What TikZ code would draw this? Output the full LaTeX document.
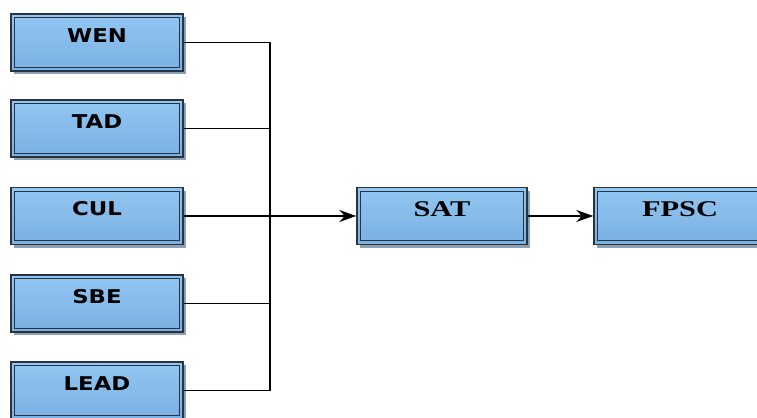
\documentclass[tikz,border=0pt]{standalone}
\usepackage{fontspec}
\newfontfamily\boxsans[FakeStretch=1.2]{DejaVu Sans}
\newfontfamily\boxserif[FakeStretch=1.35]{Liberation Serif}
\usetikzlibrary{arrows.meta,shadows}
\definecolor{boxtop}{RGB}{146,198,242}
\definecolor{boxbot}{RGB}{122,176,226}
\definecolor{boxline}{RGB}{40,52,66}
\definecolor{boxshadow}{RGB}{140,160,176}

\begin{document}
\begin{tikzpicture}[x=0.025cm,y=-0.025cm,
box/.style={rectangle,draw=boxline,line width=1.1pt,top color=boxtop,bottom color=boxbot,
 minimum width=4.3cm,minimum height=1.425cm,inner sep=0pt,text depth=10.5pt,
 drop shadow={shadow xshift=2.4pt,shadow yshift=-2.4pt,fill=boxshadow,opacity=1},
 path picture={\draw[boxline,line width=0.7pt] ([shift={(2.8pt,2.8pt)}]path picture bounding box.south west) rectangle ([shift={(-2.8pt,-2.8pt)}]path picture bounding box.north east);}},
leftbox/.style={box,font=\boxsans\bfseries\fontsize{13.5}{15}\selectfont},
rightbox/.style={box,font=\boxserif\bfseries\fontsize{16}{18}\selectfont},
arrow/.style={-{Stealth[length=12pt,width=8.5pt]},line width=1.1pt}]
%================================================================
%	Frame
\useasboundingbox (0,0) rectangle (757,418);
\clip (0,0) rectangle (757,418);

%================================================================
%	Nodes
\node[style=leftbox] (wen) at (97,42.5) {WEN};
\node[style=leftbox] (tad) at (97,128.5) {TAD};
\node[style=leftbox] (cul) at (97,216) {CUL};
\node[style=leftbox] (sbe) at (97,303.5) {SBE};
\node[style=leftbox] (lead) at (97,390.5) {LEAD};
%----------------------------------------------------------------
\node[style=rightbox,minimum width=4.25cm] (sat) at (442,216) {SAT};
\node[style=rightbox] (fpsc) at (680,216) {FPSC};
%----------------------------------------------------------------
\coordinate (bus) at (270,0);

%================================================================
%	Lines
\draw[line width=1.1pt] (wen.east) -| (bus |- lead.east) -- (lead.east);
\draw[line width=1.1pt] (tad.east) -- (tad.east -| bus);
\draw[line width=1.1pt] (sbe.east) -- (sbe.east -| bus);
%----------------------------------------------------------------
\draw[arrow] (cul.east) -- (sat.west);
\draw[arrow] (sat.east) -- (fpsc.west);
%================================================================
\end{tikzpicture}
\end{document}
